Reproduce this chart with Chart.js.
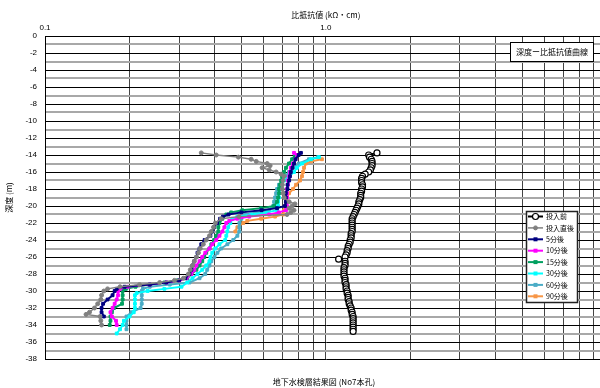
<!DOCTYPE html>
<html lang="ja">
<head>
<meta charset="UTF-8">
<title>深度ー比抵抗値曲線</title>
<script src="https://cdn.jsdelivr.net/npm/chart.js"></script>
<style>
  html, body { margin: 0; padding: 0; overflow: hidden; background: #fff; }
  #wrap { width: 612px; height: 388px; }
</style>
</head>
<body>
<div id="wrap"><canvas id="myChart" width="612" height="388"></canvas></div>
<script>
// 深度 (m) と比抵抗値 (kΩ・cm)
const seriesNames = ['投入前', '投入直後', '5分後', '10分後', '15分後', '30分後', '60分後', '90分後'];
const xGridValues = [0.1, 0.2, 0.3, 0.4, 0.5, 0.6, 0.7, 0.8, 0.9, 1, 2, 3, 4, 5, 6, 7, 8, 9, 10];

const depthBefore = [
  -13.75, -14, -14.25, -14.5, -14.75, -15, -15.25, -15.5, -15.75, -16,
  -16.25, -16.5, -16.75, -17, -17.25, -17.5, -17.75, -18, -18.25, -18.5,
  -18.75, -19, -19.25, -19.5, -19.75, -20, -20.25, -20.5, -20.75, -21,
  -21.25, -21.5, -21.75, -22, -22.25, -22.5, -22.75, -23, -23.25, -23.5,
  -23.75, -24, -24.25, -24.5, -24.75, -25, -25.25, -25.5, -25.75, -26,
  -26.25, -26.5, -26.75, -27, -27.25, -27.5, -27.75, -28, -28.25, -28.5,
  -28.75, -29, -29.25, -29.5, -29.75, -30, -30.25, -30.5, -30.75, -31,
  -31.25, -31.5, -31.75, -32, -32.25, -32.5, -32.75, -33, -33.25, -33.5,
  -33.75, -34, -34.25, -34.5, -34.75
];
const valueBefore = [
  1.52, 1.42, 1.43, 1.45, 1.46, 1.46, 1.46, 1.45, 1.44, 1.42,
  1.38, 1.35, 1.34, 1.34, 1.34, 1.35, 1.35, 1.34, 1.34, 1.33,
  1.33, 1.33, 1.32, 1.31, 1.31, 1.30, 1.29, 1.28, 1.27, 1.26,
  1.25, 1.24, 1.24, 1.24, 1.24, 1.24, 1.24, 1.24, 1.23, 1.23,
  1.23, 1.22, 1.22, 1.21, 1.20, 1.20, 1.19, 1.19, 1.18, 1.17,
  1.11, 1.17, 1.17, 1.17, 1.16, 1.16, 1.16, 1.16, 1.16, 1.17,
  1.17, 1.17, 1.18, 1.18, 1.18, 1.19, 1.19, 1.20, 1.20, 1.20,
  1.21, 1.21, 1.22, 1.23, 1.23, 1.24, 1.24, 1.25, 1.25, 1.25,
  1.25, 1.25, 1.25, 1.25, 1.25
];

const depthJust = [-13.75, -14, -14.25, -14.5, -14.75, -15, -15.25, -15.5, -15.75, -16, -16.25, -16.5, -17, -17.5, -18, -18.5, -19, -19.5, -19.75, -20, -20.25, -20.5, -20.75, -21, -21.25, -21.5, -22, -22.5, -23, -23.5, -24, -24.5, -25, -25.5, -26, -26.5, -27, -27.5, -28, -28.5, -28.75, -29, -29.25, -29.5, -29.75, -30, -30.5, -31, -31.5, -32, -32.5, -32.75, -33, -33.5, -34];
const valueJust = [0.36, 0.407, 0.488, 0.542, 0.565, 0.618, 0.633, 0.593, 0.628, 0.665, 0.693, 0.71, 0.704, 0.70, 0.70, 0.704, 0.71, 0.74, 0.776, 0.758, 0.74, 0.77, 0.75, 0.727, 0.49, 0.424, 0.404, 0.398, 0.391, 0.385, 0.375, 0.366, 0.357, 0.352, 0.346, 0.34, 0.335, 0.329, 0.324, 0.311, 0.289, 0.256, 0.217, 0.185, 0.167, 0.162, 0.159, 0.158, 0.154, 0.150, 0.144, 0.14, 0.157, 0.158, 0.159];

const depth5 = [-13.75, -14, -14.5, -15, -15.5, -16, -16.5, -17, -17.5, -18, -18.5, -19, -19.5, -20, -20.25, -20.5, -20.75, -21, -21.25, -21.5, -22, -22.5, -23, -23.5, -24, -24.5, -25, -25.5, -26, -26.5, -27, -27.5, -28, -28.5, -28.75, -29, -29.25, -29.5, -29.75, -30, -30.5, -31, -31.5, -32, -32.5, -33];
const value5 = [0.815, 0.80, 0.78, 0.77, 0.76, 0.75, 0.745, 0.74, 0.73, 0.73, 0.72, 0.72, 0.72, 0.715, 0.67, 0.59, 0.50, 0.45, 0.43, 0.42, 0.41, 0.40, 0.394, 0.388, 0.37, 0.36, 0.355, 0.349, 0.346, 0.34, 0.335, 0.332, 0.327, 0.316, 0.30, 0.27, 0.236, 0.192, 0.18, 0.177, 0.174, 0.167, 0.161, 0.159, 0.159, 0.162];

const depth10 = [-13.75, -14, -14.5, -15, -15.5, -16, -16.5, -17, -17.5, -18, -18.5, -19, -19.5, -20, -20.5, -20.75, -21, -21.25, -21.5, -21.75, -22, -22.5, -23, -23.5, -24, -24.5, -25, -25.5, -26, -26.5, -27, -27.5, -28, -28.5, -28.75, -29, -29.25, -29.5, -29.75, -30, -30.5, -31, -31.5, -32, -32.5, -33, -33.5, -34];
const value10 = [0.77, 0.79, 0.78, 0.764, 0.75, 0.745, 0.74, 0.733, 0.733, 0.727, 0.727, 0.727, 0.727, 0.727, 0.721, 0.68, 0.628, 0.533, 0.484, 0.453, 0.442, 0.435, 0.428, 0.418, 0.407, 0.394, 0.385, 0.372, 0.363, 0.355, 0.346, 0.34, 0.332, 0.319, 0.301, 0.271, 0.236, 0.197, 0.185, 0.182, 0.182, 0.18, 0.177, 0.174, 0.171, 0.173, 0.179, 0.18];

const depth15 = [-14, -14.5, -15, -15.5, -16, -16.5, -17, -17.5, -18, -18.5, -19, -19.5, -20, -20.25, -20.5, -20.75, -21, -21.5, -22, -22.5, -23, -23.5, -24, -24.5, -25, -25.5, -26, -26.5, -27, -27.5, -28, -28.5, -28.75, -29, -29.25, -29.5, -29.75, -30, -30.5, -31, -31.5, -32, -32.5, -33, -33.5, -34];
const value15 = [0.776, 0.758, 0.739, 0.721, 0.71, 0.698, 0.693, 0.687, 0.681, 0.681, 0.676, 0.67, 0.654, 0.588, 0.504, 0.46, 0.442, 0.428, 0.418, 0.414, 0.414, 0.407, 0.40, 0.391, 0.385, 0.375, 0.369, 0.363, 0.355, 0.346, 0.332, 0.321, 0.296, 0.266, 0.236, 0.21, 0.194, 0.189, 0.189, 0.189, 0.188, 0.176, 0.173, 0.171, 0.171, 0.17];

const depth30 = [-14.25, -14.5, -15, -15.5, -16, -16.5, -17, -17.5, -18, -18.5, -19, -19.5, -20, -20.5, -20.75, -21, -21.25, -21.5, -22, -22.5, -23, -23.5, -24, -24.5, -25, -25.5, -26, -26.5, -27, -27.5, -28, -28.5, -29, -29.5, -29.75, -30, -30.25, -30.5, -31, -31.5, -32, -32.5, -33, -33.5, -34, -34.5, -35];
const value30 = [0.945, 0.885, 0.822, 0.789, 0.77, 0.739, 0.71, 0.693, 0.687, 0.681, 0.681, 0.676, 0.676, 0.67, 0.618, 0.542, 0.484, 0.464, 0.457, 0.449, 0.446, 0.442, 0.438, 0.418, 0.404, 0.394, 0.388, 0.385, 0.375, 0.363, 0.349, 0.335, 0.321, 0.306, 0.266, 0.232, 0.212, 0.209, 0.209, 0.209, 0.209, 0.207, 0.20, 0.191, 0.189, 0.185, 0.18];

const depth60 = [-14.25, -14.5, -15, -15.5, -16, -16.5, -17, -17.5, -18, -18.5, -19, -19.5, -20, -20.5, -20.75, -21, -21.5, -22, -22.5, -23, -23.5, -24, -24.5, -25, -25.5, -26, -26.5, -27, -27.5, -28, -28.5, -29, -29.25, -29.5, -29.75, -30, -30.5, -31, -31.5, -32, -32.5, -33, -33.5, -34, -34.5];
const value60 = [0.937, 0.87, 0.802, 0.764, 0.739, 0.716, 0.698, 0.681, 0.67, 0.665, 0.659, 0.654, 0.649, 0.628, 0.569, 0.516, 0.50, 0.492, 0.492, 0.492, 0.484, 0.468, 0.446, 0.424, 0.411, 0.401, 0.391, 0.385, 0.378, 0.372, 0.355, 0.327, 0.278, 0.236, 0.223, 0.221, 0.221, 0.221, 0.221, 0.219, 0.203, 0.195, 0.195, 0.195, 0.195];

const depth90 = [-14.5, -14.75, -15, -15.5, -16, -16.5, -17, -17.5, -18, -18.5, -19, -19.5, -20, -20.5, -21, -21.25, -21.5, -21.75, -22, -22.5, -23];
const value90 = [0.968, 0.885, 0.849, 0.836, 0.829, 0.822, 0.809, 0.783, 0.764, 0.739, 0.727, 0.721, 0.716, 0.71, 0.704, 0.659, 0.588, 0.525, 0.508, 0.484, 0.476];

const jpFont = "'Noto Sans CJK JP', 'Liberation Sans', sans-serif";
Chart.defaults.font.family = "'Liberation Sans', 'Noto Sans CJK JP', sans-serif";
Chart.defaults.font.size = 8;
Chart.defaults.color = '#000';

function makeSeries(label, depths, values, color, style) {
  return Object.assign({
    label: label,
    data: depths.map((d, i) => ({ x: values[i], y: d })),
    showLine: true,
    borderColor: color,
    backgroundColor: color,
    pointBackgroundColor: color,
    pointBorderColor: color,
    borderWidth: 2,
    pointStyle: 'rect',
    pointRadius: 2,
    pointBorderWidth: 1
  }, style || {});
}

const datasets = [
  makeSeries(seriesNames[0], depthBefore, valueBefore, '#000000', {
    pointStyle: 'circle', pointRadius: 3, pointBackgroundColor: '#ffffff', pointBorderWidth: 1.2, borderWidth: 2
  }),
  makeSeries(seriesNames[1], depthJust, valueJust, '#808080', { pointStyle: 'circle', pointRadius: 2, borderWidth: 1.5 }),
  makeSeries(seriesNames[2], depth5, value5, '#000080'),
  makeSeries(seriesNames[3], depth10, value10, '#ff00ff'),
  makeSeries(seriesNames[4], depth15, value15, '#00a060'),
  makeSeries(seriesNames[5], depth30, value30, '#00ffff'),
  makeSeries(seriesNames[6], depth60, value60, '#4bacc6'),
  makeSeries(seriesNames[7], depth90, value90, '#f79646')
];

// 凡例・表題・図名を描く
const overlay = {
  id: 'overlay',
  afterDraw(chart) {
    const ctx = chart.ctx;
    const area = chart.chartArea;
    ctx.save();

    // 図名
    ctx.font = '8px ' + jpFont;
    ctx.fillStyle = '#000';
    ctx.textAlign = 'center';
    ctx.textBaseline = 'middle';
    ctx.fillText('地下水検層結果図 (No7本孔)', 324, area.bottom + 23);

    // 表題枠
    ctx.fillStyle = '#fff';
    ctx.fillRect(510.5, 42.5, 83, 19);
    ctx.strokeStyle = '#000';
    ctx.lineWidth = 1;
    ctx.strokeRect(510.5, 42.5, 83, 19);
    ctx.fillStyle = '#000';
    ctx.fillText('深度ー比抵抗値曲線', 552, 52);

    // 凡例
    const bx = 526.5, by = 211.5, bw = 51, bh = 91;
    ctx.fillStyle = '#fff';
    ctx.fillRect(bx, by, bw, bh);
    ctx.strokeStyle = '#222';
    ctx.lineWidth = 1.5;
    ctx.strokeRect(bx, by, bw, bh);
    ctx.textAlign = 'left';
    ctx.font = '7px ' + jpFont;
    chart.data.datasets.forEach((ds, i) => {
      const y = 216.5 + i * 11.4;
      ctx.strokeStyle = ds.borderColor;
      ctx.lineWidth = ds.borderWidth;
      ctx.beginPath();
      ctx.moveTo(528, y);
      ctx.lineTo(543, y);
      ctx.stroke();
      const r = ds.pointRadius;
      ctx.fillStyle = ds.pointBackgroundColor;
      ctx.strokeStyle = ds.pointBorderColor;
      ctx.lineWidth = ds.pointBorderWidth;
      if (ds.pointStyle === 'circle') {
        ctx.beginPath();
        ctx.arc(535.5, y, r, 0, Math.PI * 2);
        ctx.fill();
        ctx.stroke();
      } else {
        ctx.fillRect(535.5 - r, y - r, r * 2, r * 2);
      }
      ctx.fillStyle = '#000';
      ctx.fillText(ds.label, 546, y);
    });
    ctx.restore();
  }
};

new Chart(document.getElementById('myChart'), {
  type: 'scatter',
  data: { datasets: datasets },
  plugins: [overlay],
  options: {
    responsive: false,
    animation: false,
    layout: { padding: { top: 0, left: 0, right: 3, bottom: 29 } },
    plugins: {
      legend: { display: false },
      tooltip: { enabled: false }
    },
    scales: {
      x: {
        type: 'logarithmic',
        position: 'top',
        min: 0.1,
        max: 10,
        afterBuildTicks: (scale) => {
          scale.ticks = xGridValues.map(v => ({ value: v }));
        },
        afterFit: (scale) => { scale.height = 36; },
        ticks: {
          autoSkip: false,
          maxRotation: 0,
          padding: 3,
          callback: (v) => (v === 0.1 ? '0.1' : v === 1 ? '1.0' : '')
        },
        grid: { color: '#444', lineWidth: 1, drawTicks: false },
        border: { display: true, color: '#000', width: 1 },
        title: {
          display: true,
          text: '比抵抗値 (kΩ・cm)',
          font: { family: jpFont, size: 8 },
          padding: { top: 10, bottom: 0 }
        }
      },
      y: {
        type: 'linear',
        min: -38,
        max: 0,
        afterFit: (scale) => { scale.width = 45; },
        ticks: {
          stepSize: 1,
          autoSkip: false,
          padding: 8,
          callback: (v) => (v % 2 === 0 ? String(v) : '')
        },
        grid: {
          drawTicks: false,
          color: (c) => (c.tick && c.tick.value % 2 === 0 ? '#000' : '#a8a8a8'),
          lineWidth: (c) => (c.tick && c.tick.value % 2 === 0 ? 1 : 2)
        },
        border: { display: true, color: '#000', width: 1 },
        title: {
          display: true,
          text: '深度 (m)',
          font: { family: jpFont, size: 8 },
          padding: { top: 4, bottom: 4 }
        }
      }
    }
  }
});
</script>
</body>
</html>
